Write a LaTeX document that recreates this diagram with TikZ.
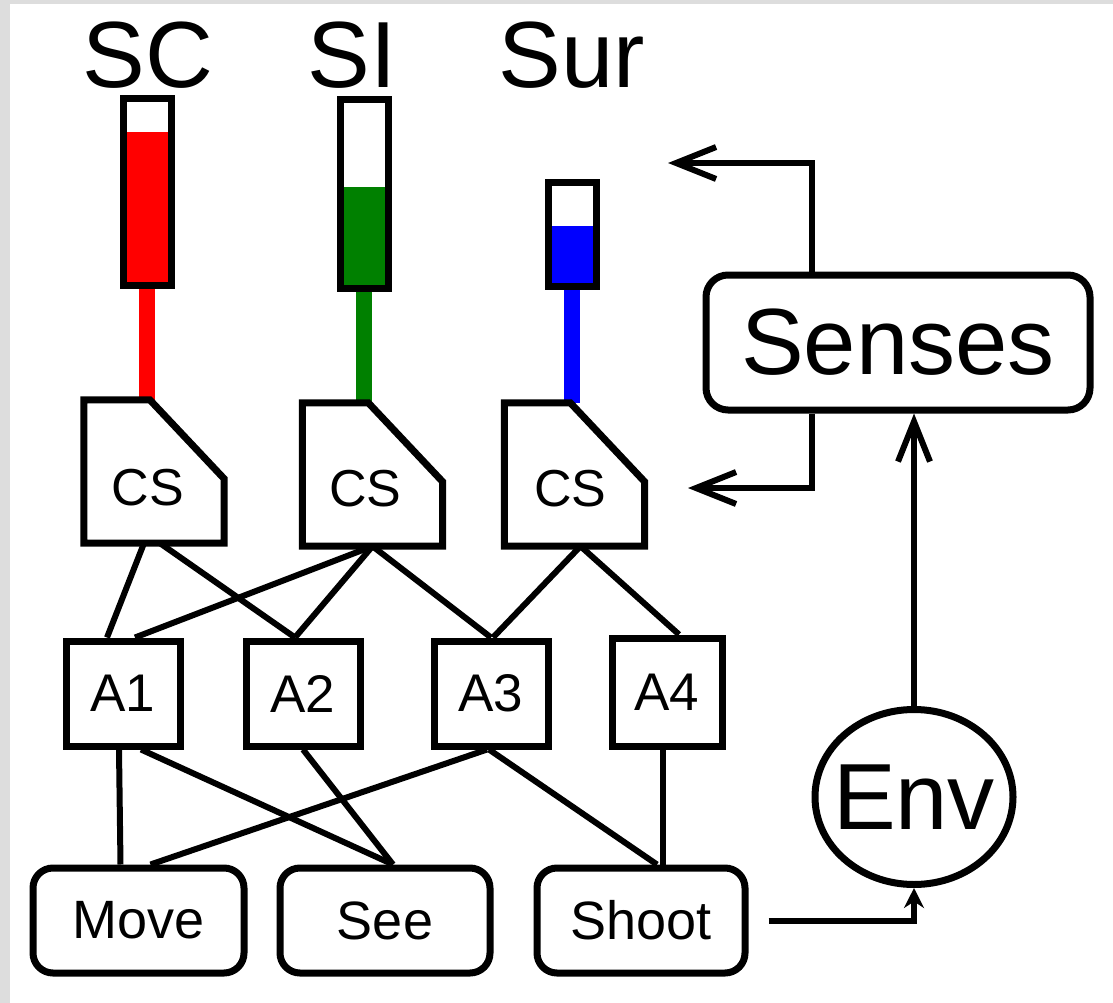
\documentclass[tikz,border=0pt]{standalone}
\usepackage{fontspec}
\setmainfont{Liberation Sans}
\usetikzlibrary{calc,arrows.meta,shapes.geometric}
\definecolor{sigred}{RGB}{255,0,0}
\definecolor{siggreen}{RGB}{0,128,0}
\definecolor{sigblue}{RGB}{0,0,255}
\definecolor{framegrey}{RGB}{221,221,221}
\tikzset{
  shp/.style={line width=7pt, line join=miter},
  con/.style={line width=6pt},
  biglbl/.style={font=\fontsize{94}{100}\selectfont, inner sep=0pt},
  meter/.style={shp, draw, fill=white, minimum width=48pt, inner sep=0pt},
  stem/.style={line width=16pt},
  csframe/.style={minimum width=140pt, minimum height=143pt, inner sep=0pt},
  cslbl/.style={inner sep=0pt, font=\fontsize{52}{56}\selectfont},
  abox/.style={shp, draw, fill=white, minimum width=114pt, minimum height=105pt, inner sep=0pt, font=\fontsize{53}{60}\selectfont},
  actbox/.style={shp, draw, fill=white, rounded corners=20pt, minimum width=210pt, minimum height=105pt, inner sep=0pt, font=\fontsize{54}{60}\selectfont},
  barb/.style={-{Straight Barb[length=40pt,width=32pt]}},
}
\begin{document}
\begin{tikzpicture}[x=1pt,y=-1pt]
\fill[framegrey] (0,0) rectangle (1113,1003);
\fill[white] (10,4) rectangle (1113,1003);
\useasboundingbox (0,0) rectangle (1113,1003);

% titles
\node[biglbl, anchor=base] (tSC) at (148,88) {SC};
\node[biglbl, anchor=base] (tSI) at (352,88) {SI};
\node[biglbl, anchor=base] (tSur) at (572,88) {Sur};

% CS frames (named, shape drawn from anchors)
\node[csframe] (cs1) at (154,471.5) {};
\node[csframe] (cs2) at (372.5,474.5) {};
\node[csframe] (cs3) at (574.5,474.5) {};

% stems
\draw[stem, sigred] (147,285) -- (147,400);
\draw[stem, siggreen] (364,288) -- (364,403);
\draw[stem, sigblue] (572,286) -- (572,403);

% meters
\node[meter, minimum height=187pt,
  path picture={\fill[sigred] ($(path picture bounding box.south west)$) rectangle ($(path picture bounding box.north east)+(0,34)$);}]
  (mSC) at (147,192) {};
\node[meter, minimum height=188pt,
  path picture={\fill[siggreen] ($(path picture bounding box.south west)$) rectangle ($(path picture bounding box.north east)+(0,87)$);}]
  (mSI) at (364,194) {};
\node[meter, minimum height=103pt,
  path picture={\fill[sigblue] ($(path picture bounding box.south west)$) rectangle ($(path picture bounding box.north east)+(0,43)$);}]
  (mSur) at (572,234.5) {};

\foreach \c in {cs1,cs2,cs3}{
  \draw[shp] (\c.south west) -- (\c.north west) -- ($(\c.north west)+(66,0)$)
    -- ($(\c.north east)+(0,79)$) -- (\c.south east) -- cycle;
}
\node[cslbl] (cs1t) at ($(cs1.center)+(-6,16)$) {CS};
\node[cslbl] (cs2t) at ($(cs2.center)+(-7,14)$) {CS};
\node[cslbl] (cs3t) at ($(cs3.center)+(-4,14)$) {CS};

% A boxes
\node[abox] (a1) at (123,693.5) {A1};
\node[abox] (a2) at (303,693.5) {A2};
\node[abox] (a3) at (491,693.5) {A3};
\node[abox, minimum width=110pt, minimum height=108pt] (a4) at (667,692) {A4};

% action boxes
\node[actbox, minimum width=211pt] (move) at (138.5,920.5) {Move};
\node[actbox] (see) at (385,920.5) {See};
\node[actbox, minimum width=208pt] (shoot) at (641,920.5) {Shoot};

% Senses and Env
\node[shp, draw, fill=white, rounded corners=22pt, minimum width=384pt, minimum height=135pt, inner sep=0pt, font=\fontsize{94}{100}\selectfont] (senses) at (898,342.5) {Senses};
\node[shp, draw, fill=white, ellipse, minimum width=198pt, minimum height=175pt, inner sep=0pt] (env) at (914,797) {};
\node[inner sep=0pt, font=\fontsize{94}{100}\selectfont] (envt) at (env.center) {Env};

% CS -> A connectors
\draw[con] ($(cs1.south)+(-10,0)$) -- ($(a1.north)+(-16,0)$);
\draw[con] ($(cs1.south)+(6,0)$) -- ($(a2.north)+(-8,0)$);
\draw[con] (cs2.south) -- ($(a1.north)+(12,0)$);
\draw[con] (cs2.south) -- ($(a2.north)+(-8,0)$);
\draw[con] (cs2.south) -- ($(a3.north)+(0,0)$);
\draw[con] ($(cs3.south)+(6,0)$) -- ($(a3.north)+(2,0)$);
\draw[con] ($(cs3.south)+(6,0)$) -- ($(a4.north)+(12,0)$);

% A -> actions
\draw[con] ($(a1.south)+(-4,0)$) -- ($(move.north)+(-18,0)$);
\draw[con] ($(a1.south)+(18,0)$) -- ($(see.north)+(8,0)$);
\draw[con] ($(a2.south)+(0,0)$) -- ($(see.north)+(8,0)$);
\draw[con] ($(a3.south)+(-4,0)$) -- ($(move.north)+(12,0)$);
\draw[con] ($(a3.south)+(-2,0)$) -- ($(shoot.north)+(16,0)$);
\draw[con] ($(a4.south)+(-4,0)$) -- ($(shoot.north)+(22,0)$);

% feedback arrows
\coordinate (fb1) at (668,163);
\coordinate (fb2) at (688,488);
\draw[con, barb] ($(senses.north west)+(109,0)$) |- (fb1);
\draw[con, barb] ($(senses.south west)+(109,0)$) |- (fb2);
\draw[con, barb] (env.north) -- (senses.south -| env.north);
\draw[con, -{Stealth[length=20pt,width=20pt]}] (shoot.east) ++(20,0) coordinate (shootout) -- (shootout -| env.south) -- (env.south);
\end{tikzpicture}
\end{document}
